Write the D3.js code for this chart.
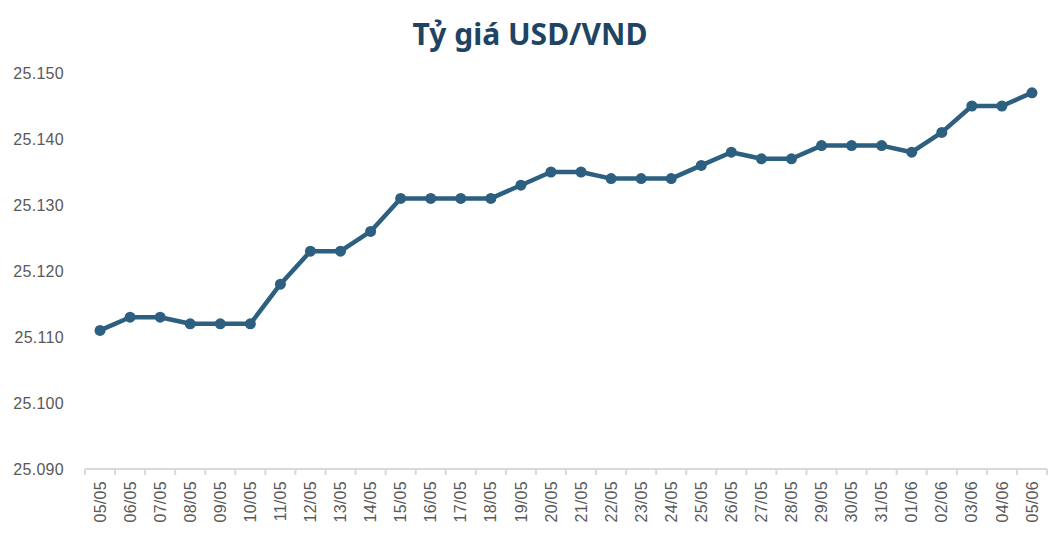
<!DOCTYPE html>
<html>
<head>
<meta charset="utf-8">
<script src="https://cdn.jsdelivr.net/npm/d3@7"></script>
<style>
  body { margin: 0; background: #fff; }
  .title { font-family: "Noto Sans", sans-serif; font-weight: 700; font-size: 30px; fill: #1f4463; }
  .axis text { font-family: "Liberation Sans", Arial, sans-serif; font-size: 16px; fill: #595959; letter-spacing: 0.3px; }
  .x.axis path, .x.axis line { stroke: #d9d9d9; stroke-width: 2; }
  .y.axis path, .y.axis line { display: none; }
</style>
</head>
<body>
<svg id="chart"></svg>
<script>
var dates = ["05/05","06/05","07/05","08/05","09/05","10/05","11/05","12/05","13/05","14/05",
  "15/05","16/05","17/05","18/05","19/05","20/05","21/05","22/05","23/05","24/05",
  "25/05","26/05","27/05","28/05","29/05","30/05","31/05","01/06","02/06","03/06","04/06","05/06"]
var rates = [25111, 25113, 25113, 25112, 25112, 25112, 25118, 25123, 25123, 25126,
  25131, 25131, 25131, 25131, 25133, 25135, 25135, 25134, 25134, 25134,
  25136, 25138, 25137, 25137, 25139, 25139, 25139, 25138, 25141, 25145, 25145, 25147]
var yTicks = [25090, 25100, 25110, 25120, 25130, 25140, 25150]

var width = 1060
var height = 542
var margin = { top: 73, right: 13, bottom: 73, left: 85 }
var innerW = width - margin.left - margin.right
var innerH = height - margin.top - margin.bottom

var svg = d3.select("#chart")
  .attr("width", width)
  .attr("height", height)

svg.append("text")
  .attr("class", "title")
  .attr("x", 530)
  .attr("y", 45)
  .attr("text-anchor", "middle")
  .text("Tỷ giá USD/VND")

var g = svg.append("g")
  .attr("transform", "translate(" + margin.left + "," + margin.top + ")")

var x = d3.scaleBand()
  .domain(dates)
  .range([0, innerW])

var y = d3.scaleLinear()
  .domain([25090, 25150])
  .range([innerH, 0])

var fmt = function(d) {
  return d3.format(",.0f")(d).replace(",", ".")
}

g.append("g")
  .attr("class", "y axis")
  .call(d3.axisLeft(y).tickValues(yTicks).tickFormat(fmt).tickSize(0).tickPadding(21))
  .call(function(a) { a.select(".domain").remove() })

var xAxis = g.append("g")
  .attr("class", "x axis")
  .attr("transform", "translate(0," + innerH + ")")
  .call(d3.axisBottom(x).tickSize(0).tickSizeOuter(0))

xAxis.select(".domain").attr("d", "M0,0H" + innerW)

// tick marks sit on the category boundaries
xAxis.selectAll(".bound")
  .data(d3.range(dates.length + 1))
  .enter().append("line")
  .attr("class", "bound")
  .attr("x1", function(i) { return i * x.step() })
  .attr("x2", function(i) { return i * x.step() })
  .attr("y1", 0)
  .attr("y2", 6)

xAxis.selectAll(".tick text")
  .attr("transform", "rotate(-90)")
  .attr("text-anchor", "end")
  .attr("x", -12)
  .attr("y", 0)
  .attr("dy", "0.35em")

var line = d3.line()
  .x(function(d, i) { return x(dates[i]) + x.bandwidth() / 2 })
  .y(function(d) { return y(d) })

g.append("path")
  .datum(rates)
  .attr("fill", "none")
  .attr("stroke", "#2d5f80")
  .attr("stroke-width", 4.5)
  .attr("stroke-linejoin", "round")
  .attr("d", line)

g.selectAll(".dot")
  .data(rates)
  .enter().append("circle")
  .attr("class", "dot")
  .attr("cx", function(d, i) { return x(dates[i]) + x.bandwidth() / 2 })
  .attr("cy", function(d) { return y(d) })
  .attr("r", 5.5)
  .attr("fill", "#2d5f80")
</script>
</body>
</html>
